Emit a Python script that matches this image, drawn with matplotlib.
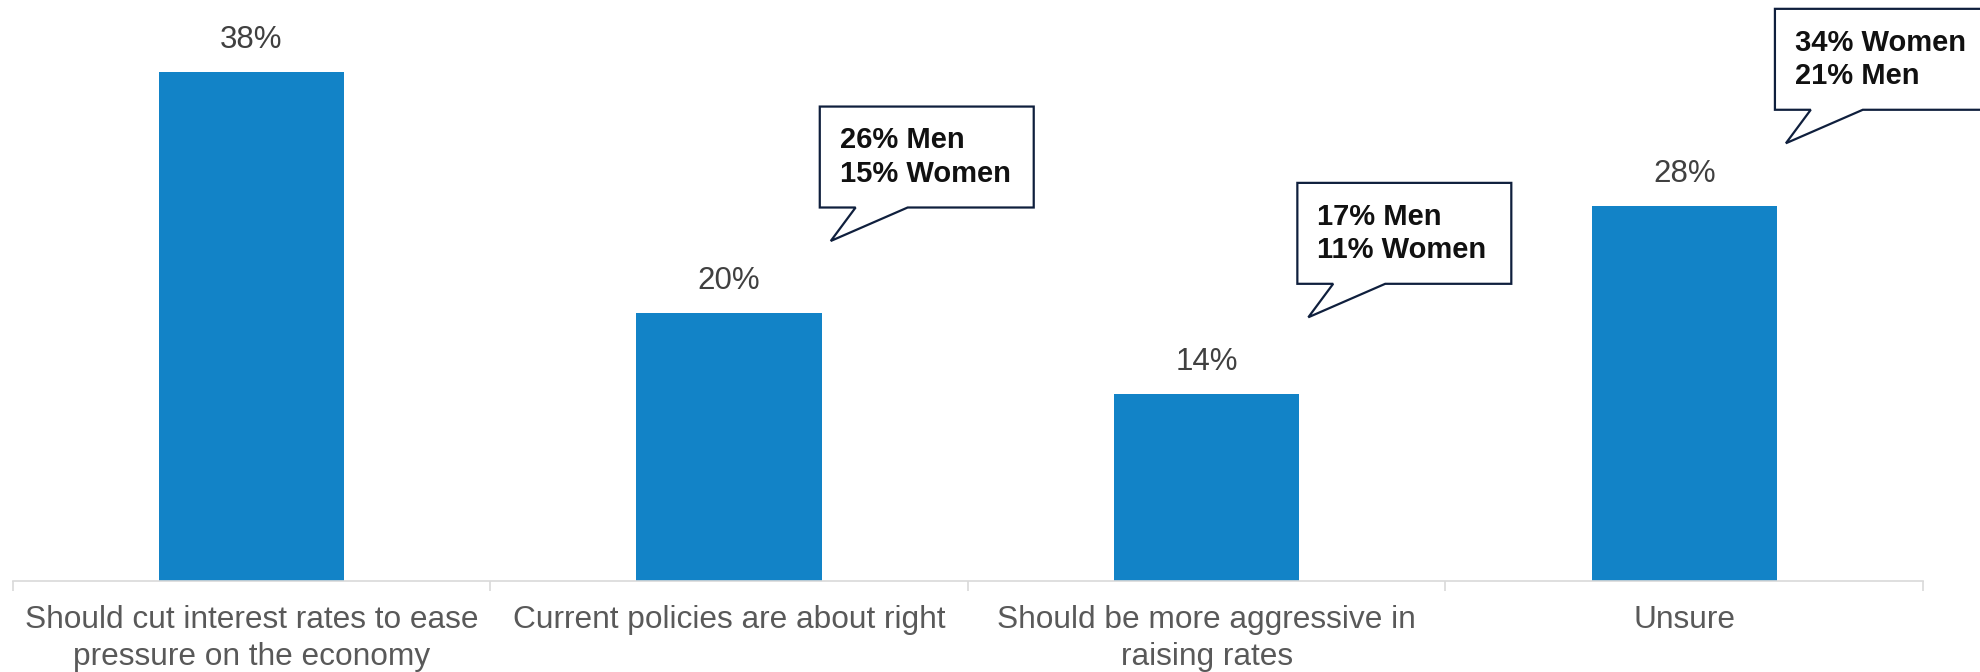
import matplotlib.pyplot as plt
from matplotlib.patches import Polygon

plt.rcParams['font.family'] = ['Liberation Sans', 'DejaVu Sans']

categories = ["Should cut interest rates to ease\npressure on the economy",
              "Current policies are about right",
              "Should be more aggressive in\nraising rates",
              "Unsure"]
values = [38, 20, 14, 28]

# callouts: (bar index, text)
callout_bars = [1, 2, 3]
callout_texts = ["26% Men\n15% Women", "17% Men\n11% Women", "34% Women\n21% Men"]
callout_bottoms = [27.9, 22.2, 35.2]

bar_color = '#1283C7'
x = list(range(len(categories)))

fig = plt.figure(figsize=(19.8, 6.72), dpi=100)
ax = fig.add_axes([0.0064, 0.1354, 0.9648, 0.8646])
ax.bar(x, values, width=0.388, color=bar_color, zorder=2)

ax.set_xlim(-0.5, 3.5)
ax.set_ylim(0, 43.4)
for s in ['top', 'right', 'left']:
    ax.spines[s].set_visible(False)
ax.spines['bottom'].set_color('#D9D9D9')
ax.spines['bottom'].set_linewidth(1.2)
ax.set_yticks([])

ax.set_xticks([-0.5, 0.5, 1.5, 2.5, 3.5])
ax.set_xticklabels([])
ax.tick_params(axis='x', which='major', length=7.5, color='#D9D9D9', width=1.2)
ax.set_xticks(x, minor=True)
ax.set_xticklabels(categories, minor=True, fontsize=22.8, color='#595959',
                   linespacing=1.32)
ax.tick_params(axis='x', which='minor', length=0, pad=17)

for xi, v in zip(x, values):
    ax.annotate(f"{v}%", (xi, v), xytext=(0, 23), textcoords='offset points',
                ha='center', va='center', fontsize=22.5, color='#404040')

# speech-bubble callouts, placed relative to their bar
bw, bh = 0.448, 7.54
for bi, txt, yb in zip(callout_bars, callout_texts, callout_bottoms):
    x0 = bi + 0.19
    x1 = x0 + bw
    y1 = yb + bh
    pts = [(x0 + 0.023, yb - 2.5), (x0 + 0.184, yb), (x1, yb), (x1, y1),
           (x0, y1), (x0, yb), (x0 + 0.075, yb)]
    poly = Polygon(pts, closed=True, facecolor='white', edgecolor='#0F1F3D',
                   linewidth=1.6, clip_on=False, zorder=3, joinstyle='miter')
    ax.add_patch(poly)
    ax.text(x0 + 0.042, yb + bh / 2, txt, ha='left', va='center',
            fontsize=21, fontweight='bold', color='#111111',
            linespacing=1.25, zorder=4, clip_on=False)

fig.savefig('out.png', dpi=100)
